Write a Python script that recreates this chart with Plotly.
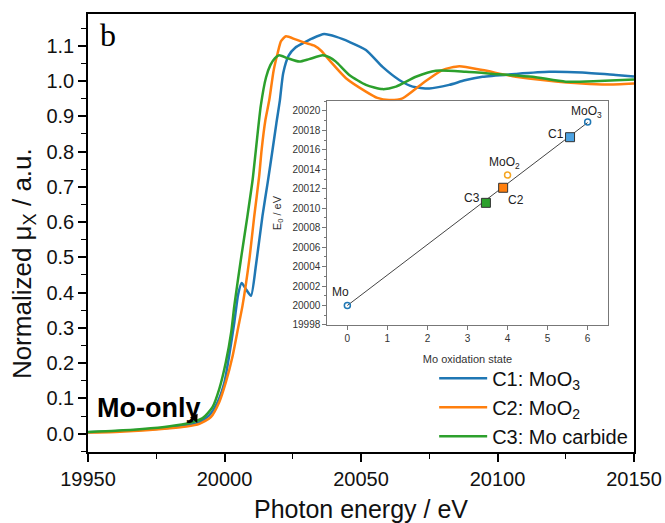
import plotly.graph_objects as go

# ---------------- main XANES spectra ----------------
c1_x = [19950, 19960, 19970, 19980, 19986, 19990.8, 19994.4, 19997.5, 20000, 20001.7, 20003.6, 20005.0,
        20006.3, 20008.0, 20009.7, 20011.5, 20013.9, 20015.8, 20017.6, 20019.0, 20020.3, 20021.5, 20023.5,
        20026, 20029, 20032, 20036.5, 20041, 20045.7, 20051.8, 20057.9, 20064, 20068.9, 20075, 20082.3,
        20088, 20094.5, 20106.7, 20118.9, 20131, 20143.3, 20150]
c1_y = [0.004, 0.007, 0.011, 0.017, 0.023, 0.033, 0.052, 0.090, 0.146, 0.221, 0.316, 0.395,
        0.427, 0.408, 0.391, 0.476, 0.617, 0.711, 0.805, 0.88, 0.946, 1.022, 1.072,
        1.095, 1.108, 1.120, 1.133, 1.125, 1.111, 1.088, 1.040, 1.003, 0.984, 0.979, 0.989,
        1.002, 1.012, 1.020, 1.026, 1.024, 1.017, 1.013]

c2_x = [19950, 19960, 19970, 19980, 19986, 19990.8, 19995, 19998.1, 20000.5, 20003, 20005, 20006.6,
        20009.1, 20010.9, 20012.7, 20013.6, 20015.0, 20016.4, 20018.0, 20019.5, 20020.7, 20022.5,
        20026, 20029.5, 20032.9, 20035.5, 20038.4, 20044.5, 20051.8, 20056, 20060.3, 20065.2, 20072.5,
        20079.8, 20086, 20094.5, 20106.7, 20118.9, 20131, 20140, 20150]
c2_y = [0.003, 0.005, 0.009, 0.015, 0.020, 0.028, 0.047, 0.090, 0.146, 0.221, 0.300, 0.363,
        0.494, 0.617, 0.730, 0.805, 0.890, 0.946, 1.030, 1.080, 1.113, 1.127,
        1.118, 1.108, 1.100, 1.085, 1.059, 1.008, 0.970, 0.952, 0.946, 0.951, 0.993,
        1.031, 1.042, 1.031, 1.012, 1.001, 0.993, 0.990, 0.993]

c3_x = [19950, 19960, 19970, 19980, 19987, 19992, 19995.6, 19998.1, 20000.5, 20002.5, 20003.6, 20006,
        20008.4, 20010.3, 20011.5, 20013.3, 20015.2, 20016.8, 20018.5, 20020, 20023, 20027.4, 20031,
        20035.9, 20038.5, 20040.8, 20045.7, 20051.8, 20057.9, 20062.8, 20070.1, 20077.4, 20088.4,
        20100.6, 20112.8, 20125, 20137.2, 20150]
c3_y = [0.005, 0.008, 0.013, 0.021, 0.030, 0.044, 0.075, 0.127, 0.203, 0.290, 0.363, 0.494,
        0.617, 0.720, 0.805, 0.930, 1.010, 1.045, 1.065, 1.073, 1.065, 1.055, 1.062,
        1.073, 1.067, 1.055, 1.017, 0.989, 0.977, 0.984, 1.012, 1.029, 1.026,
        1.019, 1.012, 0.998, 1.000, 1.004]

series_names = ["C1: MoO<sub>3</sub>", "C2: MoO<sub>2</sub>", "C3: Mo carbide"]
series_colors = ["#1f77b4", "#ff7f0e", "#2ca02c"]

x_ticks = [19950, 20000, 20050, 20100, 20150]

# ---------------- inset: E0 vs oxidation state ----------------
fit_x = [0, 6]
fit_y = [20000, 20018.8]

ref_names = ["Mo", "MoO<sub>2</sub>", "MoO<sub>3</sub>"]
ref_ox = [0, 4, 6]
ref_e0 = [20000, 20013.4, 20018.85]
ref_colors = ["#1f77b4", "#f5a623", "#1f77b4"]

comp_names = ["C1", "C2", "C3"]
comp_ox = [5.56, 3.89, 3.46]
comp_e0 = [20017.3, 20012.1, 20010.55]
comp_colors = ["#4da3e3", "#ff7f0e", "#2ca02c"]

FONT = "Liberation Sans, Arial, sans-serif"

fig = go.Figure()

for xs, ys, nm, col in zip([c1_x, c2_x, c3_x], [c1_y, c2_y, c3_y], series_names, series_colors):
    fig.add_trace(go.Scatter(x=xs, y=ys, mode="lines", name=nm, legendgroup=nm,
                             line=dict(color=col, width=2.5, shape="spline", smoothing=0.6),
                             xaxis="x", yaxis="y"))

# inset traces
fig.add_trace(go.Scatter(x=fit_x, y=fit_y, mode="lines", showlegend=False,
                         line=dict(color="#444444", width=1), xaxis="x2", yaxis="y2"))
fig.add_trace(go.Scatter(x=ref_ox, y=ref_e0, mode="markers", showlegend=False,
                         marker=dict(symbol="circle-open", size=6, color=ref_colors, line=dict(width=1.5)),
                         xaxis="x2", yaxis="y2"))
fig.add_trace(go.Scatter(x=comp_ox, y=comp_e0, mode="markers", showlegend=False,
                         marker=dict(symbol="square", size=9, color=comp_colors,
                                     line=dict(color="#333333", width=1)),
                         xaxis="x2", yaxis="y2"))

annotations = []
# inset labels
lab_pos = {
    "Mo": (-0.17, 20001.4),
    "MoO<sub>2</sub>": (3.93, 20014.6),
    "MoO<sub>3</sub>": (5.98, 20019.9),
    "C1": (5.22, 20017.6),
    "C2": (4.2, 20010.8),
    "C3": (3.1, 20011.1),
}
for txt, (lx, ly) in lab_pos.items():
    annotations.append(dict(x=lx, y=ly, xref="x2", yref="y2", text=txt, showarrow=False,
                            font=dict(family=FONT, size=12, color="#222222")))

annotations.append(dict(x=0.0366, y=0.952, xref="paper", yref="paper", text="b", showarrow=False,
                        xanchor="center", yanchor="middle",
                        font=dict(family="Liberation Serif, Times New Roman, serif", size=32, color="black")))
annotations.append(dict(x=-0.119, y=0.429, xref="paper", yref="paper", textangle=-90,
                        text="Normalized μ<sub>X</sub> / a.u.", showarrow=False,
                        xanchor="center", yanchor="middle",
                        font=dict(family=FONT, size=26, color="#111111")))
annotations.append(dict(x=19972.3, y=0.073, xref="x", yref="y", text="<b>Mo-only</b>",
                        showarrow=False, xanchor="center", yanchor="middle",
                        font=dict(family=FONT, size=27, color="black")))
annotations.append(dict(x=19990, y=0.030, xref="x", yref="y", text="",
                        showarrow=True, ax=-4, ay=-9, arrowhead=2, arrowsize=1.1, arrowwidth=1.5,
                        arrowcolor="black", standoff=0))

fig.update_layout(
    width=665, height=523,
    margin=dict(l=88, r=31, t=14, b=71, autoexpand=False),
    paper_bgcolor="white", plot_bgcolor="white",
    font=dict(family=FONT, color="#111111"),
    showlegend=True,
    legend=dict(x=0.634, y=0.213, xanchor="left", yanchor="top", bgcolor="rgba(0,0,0,0)",
                font=dict(family=FONT, size=20, color="#111111"), itemwidth=48,
                tracegroupgap=6, traceorder="normal"),
    xaxis=dict(domain=[0, 1], range=[19950, 20150], tickvals=x_ticks, tickformat="d", ticks="outside",
               ticklen=8, tickwidth=1.5, tickcolor="black", showline=True, linecolor="black", linewidth=1.5,
               mirror=True, showgrid=False, zeroline=False, automargin=False,
               tickfont=dict(family=FONT, size=20, color="#111111"),
               minor=dict(dtick=25, tick0=19950, ticks="outside", ticklen=5, tickcolor="black", tickwidth=1.2),
               title=dict(text="Photon energy / eV", font=dict(family=FONT, size=25, color="#111111"),
                          standoff=13)),
    yaxis=dict(domain=[0, 1], range=[-0.052, 1.19], dtick=0.1, tick0=0, tickformat=".1f", ticks="outside",
               ticklen=8, tickwidth=1.5, tickcolor="black", showline=True, linecolor="black", linewidth=1.5,
               mirror=True, showgrid=False, zeroline=False, automargin=False,
               tickfont=dict(family=FONT, size=20, color="#111111"),
               minor=dict(dtick=0.05, tick0=0, ticks="outside", ticklen=5, tickcolor="black", tickwidth=1.2)),
    xaxis2=dict(domain=[0.4383, 0.9518], anchor="y2", range=[-0.5, 6.5], dtick=1, tick0=0,
                ticks="outside", ticklen=4, tickcolor="#777777", showline=True, linecolor="#777777",
                linewidth=1, mirror=True, showgrid=False, zeroline=False, automargin=False,
                tickfont=dict(family=FONT, size=10, color="#333333"),
                title=dict(text="Mo oxidation state", font=dict(family=FONT, size=11, color="#333333"),
                           standoff=12)),
    yaxis2=dict(domain=[0.290, 0.801], anchor="x2", range=[19998, 20021], dtick=2, tick0=19998,
                tickformat="d", ticks="outside", ticklen=4, tickcolor="#777777", showline=True,
                linecolor="#777777", linewidth=1, mirror=True, showgrid=False, zeroline=False,
                automargin=False,
                tickfont=dict(family=FONT, size=10, color="#333333"),
                minor=dict(dtick=1, ticks="outside", ticklen=2, tickcolor="#777777"),
                title=dict(text="E<sub>0</sub> / eV", font=dict(family=FONT, size=11, color="#333333"),
                           standoff=8)),
    annotations=annotations,
)

fig.write_html("out.html")
